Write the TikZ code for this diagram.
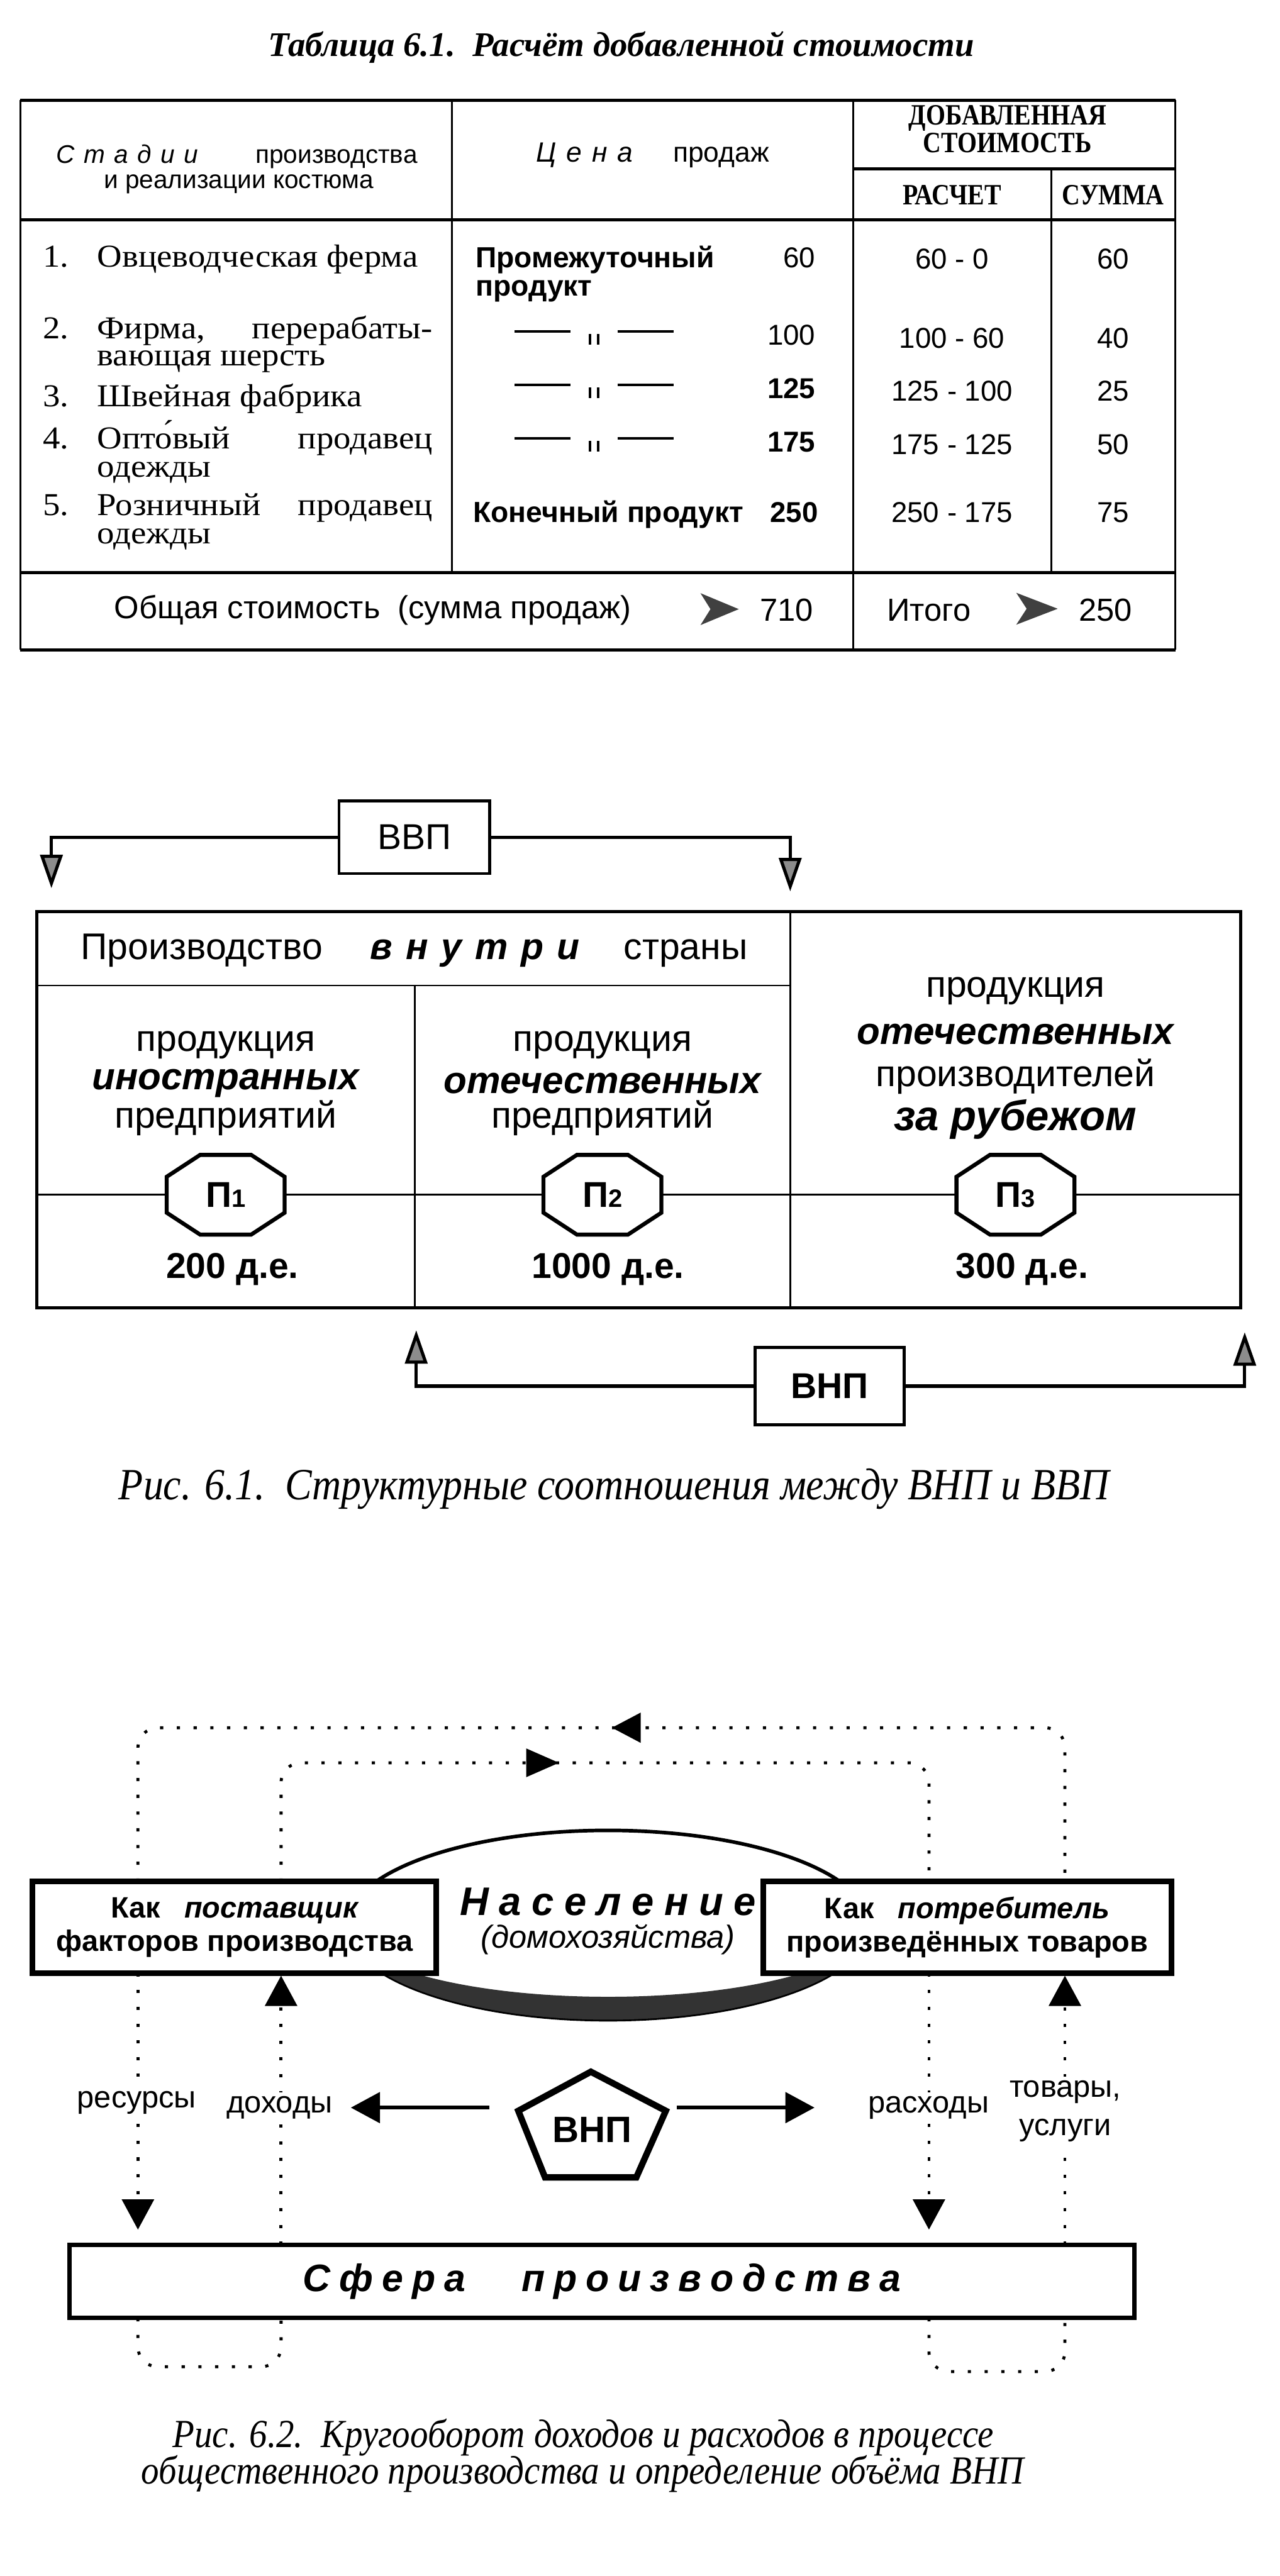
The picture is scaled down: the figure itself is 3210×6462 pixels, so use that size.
\documentclass[tikz,border=0pt]{standalone}
\usepackage{fontspec}
\setmainfont{Liberation Serif}
\setsansfont{Liberation Sans}
\newfontfamily\capfont[FakeStretch=0.9]{Liberation Serif}
\newfontfamily\wideserif[FakeStretch=1.08]{Liberation Serif}
\newfontfamily\condserif[FakeStretch=0.85]{Liberation Serif}
\usetikzlibrary{arrows.meta,calc}
\makeatletter
\newcommand\spreadtxt[2]{{\def\sp@k{\kern#1}\@tfor\sp@c:=#2\do{\sp@c\sp@k}\unkern}}
\makeatother
\newcommand\fsz[1]{\fontsize{#1}{#1}\selectfont}
\newcommand\dittomark{\rule[0.55ex]{14pt}{0.7pt}\hspace{4.5pt}\rule[-0.9pt]{0.7pt}{2.7pt}\hspace{1.4pt}\rule[-0.9pt]{0.7pt}{2.7pt}\hspace{4.5pt}\rule[0.55ex]{14pt}{0.7pt}}
\begin{document}
\begin{tikzpicture}[x=0.1pt,y=-0.1pt,
  every node/.style={inner sep=0pt, outer sep=0pt},
  hl/.style={line width=0.8pt},
  vl/.style={line width=0.45pt},
  c1n/.style={anchor=base west, font=\wideserif\fsz{8}},
  c1t/.style={anchor=base west, font=\wideserif\fsz{8}},
  c2b/.style={anchor=base west, font=\fsz{7.3}\sffamily\bfseries},
  c2n/.style={anchor=base east, font=\fsz{7.2}\sffamily},
  c3/.style={anchor=base, font=\fsz{7.2}\sffamily},
  ditto/.style={font=\fsz{7}\sffamily},
  hdr/.style={font=\condserif\bfseries\fsz{7.4}},
  tot/.style={font=\fsz{8}\sffamily},
  dart/.style={fill=black!75},
  fa/.style={font=\fsz{9.3}\sffamily},
  fai/.style={font=\fsz{9.5}\sffamily\bfseries\itshape},
  fav/.style={font=\fsz{9}\sffamily\bfseries},
  gbox/.style={draw, line width=0.7pt, fill=white},
  garr/.style={line width=0.8pt, -{Triangle[length=8.4pt,width=5.6pt,fill=black!45]}},
  octo/.style={draw, line width=1pt, fill=white},
  captxt/.style={font=\capfont\itshape},
  dotl/.style={line width=0.75pt, dash pattern=on 0.8pt off 3.4pt},
  dotarr/.style={dotl, -{Triangle[length=7.6pt,width=8pt]}},
  hbox/.style={draw, line width=1.4pt, fill=white, align=center, font=\fsz{7.4}\sffamily\bfseries},
  lab/.style={font=\fsz{7.7}\sffamily, fill=white, inner sep=1pt},
  sarr/.style={line width=1pt, -{Triangle[length=7.3pt,width=7.6pt]}}
]
\useasboundingbox (0,0) rectangle (3210,6462);

% ================= Table 6.1 =================
\node[font=\fsz{8.65}\rmfamily\bfseries\itshape] (ttl) at (1558,119) {Таблица 6.1.\ \ Расчёт добавленной стоимости};

\draw[hl] (51,251) -- (2948,251);
\draw[hl] (2140,423) -- (2948,423);
\draw[hl] (51,551) -- (2948,551);
\draw[hl] (51,1437) -- (2948,1437);
\draw[hl] (51,1630) -- (2948,1630);
\draw[vl] (51,251) -- (51,1630);
\draw[vl] (1134,251) -- (1134,1437);
\draw[vl] (2140,251) -- (2140,1630);
\draw[vl] (2637,423) -- (2637,1437);
\draw[vl] (2948,251) -- (2948,1630);

% header
\node[anchor=base, font=\fsz{6.4}\sffamily] (hA1) at (594,410) {\makebox[90.6pt][s]{{\itshape\spreadtxt{2.3pt}{Стадии}}\hfill производства}};
\node[anchor=base, font=\fsz{6.4}\sffamily] (hA2) at (599,473) {и реализации костюма};
\node[anchor=base, font=\fsz{7}\sffamily] (hB) at (1637,406) {\makebox[58.4pt][s]{{\itshape\spreadtxt{2.5pt}{Цена}}\hfill продаж}};
\node[hdr] (hC1) at (2527,296) {ДОБАВЛЕННАЯ};
\node[hdr] (hC2) at (2527,359) {СТОИМОСТЬ};
\node[hdr] (hC3) at (2388,490) {РАСЧЕТ};
\node[hdr] (hC4) at (2792,490) {СУММА};

% column 1
\node[c1n] (n1) at (108,669) {1.};
\node[c1t] (s1) at (244,669) {Овцеводческая ферма};
\node[c1n] (n2) at (108,850) {2.};
\node[c1t] (s2a) at (244,850) {\makebox[84.1pt][s]{Фирма,\hfill перерабаты-}};
\node[c1t] (s2b) at (244,918) {вающая шерсть};
\node[c1n] (n3) at (108,1020) {3.};
\node[c1t] (s3) at (244,1020) {Швейная фабрика};
\node[c1n] (n4) at (108,1126) {4.};
\node[c1t] (s4a) at (244,1126) {\makebox[84.1pt][s]{Опто́вый\hfill продавец}};
\node[c1t] (s4b) at (244,1196) {одежды};
\node[c1n] (n5) at (108,1293) {5.};
\node[c1t] (s5a) at (244,1293) {\makebox[84.1pt][s]{Розничный\hfill продавец}};
\node[c1t] (s5b) at (244,1364) {одежды};

% column 2
\node[c2b] (p1a) at (1193,672) {Промежуточный};
\node[c2b] (p1b) at (1193,742) {продукт};
\node[c2n] (v1) at (2045,672) {60};
\node[ditto] (d2) at (1490,846) {\dittomark};
\node[c2n] (v2) at (2045,865) {100};
\node[ditto] (d3) at (1490,980) {\dittomark};
\node[c2n, font=\fsz{7.2}\sffamily\bfseries] (v3) at (2045,999) {125};
\node[ditto] (d4) at (1490,1114) {\dittomark};
\node[c2n, font=\fsz{7.2}\sffamily\bfseries] (v4) at (2045,1133) {175};
\node[c2b] (p5) at (1187,1310) {Конечный продукт};
\node[c2n, font=\fsz{7.2}\sffamily\bfseries] (v5) at (2052,1310) {250};

% column 3 and 4
\node[c3] (r1) at (2388,674) {60 - 0};
\node[c3] (r2) at (2388,873) {100 - 60};
\node[c3] (r3) at (2388,1005) {125 - 100};
\node[c3] (r4) at (2388,1139) {175 - 125};
\node[c3] (r5) at (2388,1310) {250 - 175};
\node[c3] (u1) at (2792,674) {60};
\node[c3] (u2) at (2792,873) {40};
\node[c3] (u3) at (2792,1005) {25};
\node[c3] (u4) at (2792,1139) {50};
\node[c3] (u5) at (2792,1310) {75};

% total row
\node[tot, anchor=west] (tot1) at (287,1530) {Общая стоимость\ \ (сумма продаж)};
\fill[dart] (1757,1488) -- (1853,1528) -- (1757,1568) -- (1782,1528) -- cycle;
\node[tot, anchor=east] (tot2) at (2040,1530) {710};
\node[tot, anchor=west] (tot3) at (2225,1530) {Итого};
\fill[dart] (2549,1487) -- (2653,1527) -- (2549,1567) -- (2575,1527) -- cycle;
\node[tot, anchor=west] (tot4) at (2706,1530) {250};

% ================= Figure 6.1 =================
\node[gbox, minimum width=37.8pt, minimum height=18.2pt, font=\fsz{9}\sffamily] (vvp) at (1039,2100) {ВВП};
\coordinate (vvpL) at (129,2228);
\coordinate (vvpR) at (1982,2236);
\draw[garr] (vvp.west) -| (vvpL);
\draw[garr] (vvp.east) -| (vvpR);

% main box
\draw[line width=0.75pt] (92,2287) rectangle (3112,3281);
\draw[vl] (92,2472) -- (1982,2472);
\draw[vl] (1982,2287) -- (1982,3281);
\draw[vl] (1040,2472) -- (1040,3281);
\draw[line width=0.5pt] (92,2997) -- (3112,2997);

\node[fa] (dom) at (1039,2384) {Производство\hspace{12pt}{\bfseries\itshape\spreadtxt{3.3pt}{внутри}}\hspace{11pt}страны};

\node[fa] (a1) at (566,2622) {продукция};
\node[fai] (a2) at (566,2717) {иностранных};
\node[fa] (a3) at (566,2805) {предприятий};
\node[fa] (b1) at (1511,2622) {продукция};
\node[fai] (b2) at (1511,2717) {отечественных};
\node[fa] (b3) at (1511,2805) {предприятий};
\node[fa] (c1) at (2547,2486) {продукция};
\node[fai] (c2) at (2547,2594) {отечественных};
\node[fa] (c3) at (2547,2700) {производителей};
\node[fai, font=\fsz{10.6}\sffamily\bfseries\itshape] (c4) at (2547,2808) {за рубежом};

\foreach \cx/\nm in {566/1,1511/2,2547/3}{
  \filldraw[octo] ({\cx-64},2897) -- ({\cx+64},2897) -- ({\cx+148},2952) -- ({\cx+148},3042)
     -- ({\cx+64},3097) -- ({\cx-64},3097) -- ({\cx-148},3042) -- ({\cx-148},2952) -- cycle;
  \node[fav] (oct\nm) at (\cx,2997) {П{\fsz{6.3}\nm}};
}
\node[fav] (val1) at (583,3184) {200 д.е.};
\node[fav] (val2) at (1525,3184) {1000 д.е.};
\node[fav] (val3) at (2564,3184) {300 д.е.};

\node[gbox, minimum width=37.4pt, minimum height=19.4pt, font=\fsz{9}\sffamily\bfseries] (vnp) at (2081,3477) {ВНП};
\coordinate (vnpL) at (1044,3337);
\coordinate (vnpR) at (3122,3342);
\draw[garr] (vnp.west) -| (vnpL);
\draw[garr] (vnp.east) -| (vnpR);

\node[captxt, font=\capfont\itshape\fsz{11.2}] (cap1) at (1540,3735) {Рис. 6.1.\ \ Структурные соотношения между ВНП и ВВП};

% ================= Figure 6.2 =================
\coordinate (xLo) at (346,0);
\coordinate (xLi) at (705,0);
\coordinate (xRi) at (2330,0);
\coordinate (xRo) at (2671,0);
\coordinate (topO) at (0,4334);
\coordinate (topI) at (0,4422);

% ellipse with dark lower crescent
\draw[line width=0.9pt, fill=white] (1525,4829) ellipse [x radius=65.5pt, y radius=23.75pt];
\fill[black!80] (870,4829) arc[start angle=180, end angle=360, x radius=65.5pt, y radius=23.75pt]
   arc[start angle=0, end angle=-180, x radius=65.5pt, y radius=18pt] -- cycle;

\node[hbox, minimum width=101.3pt, minimum height=23pt] (sup) at (588,4835)
  {Как\hspace{6pt}{\itshape поставщик}\\[1pt]факторов производства};
\node[hbox, minimum width=102.4pt, minimum height=23pt] (con) at (2426,4835)
  {Как\hspace{6pt}{\itshape потребитель}\\[1pt]произведённых товаров};

\node[font=\fsz{10}\sffamily\bfseries\itshape] (pop) at (1525,4770) {\spreadtxt{2.6pt}{Население}};
\node[font=\fsz{8}\sffamily\itshape] (hh) at (1525,4866) {(домохозяйства)};

% top dotted loops
\draw[dotl, rounded corners=5pt] (sup.north -| xLo) -- (xLo |- topO) -- (xRo |- topO) -- (con.north -| xRo);
\draw[dotl, rounded corners=5pt] (sup.north -| xLi) -- (xLi |- topI) -- (xRi |- topI) -- (con.north -| xRi);
\fill (1535,4334) -- (1607,4296) -- (1607,4372) -- cycle;
\fill (1402,4422) -- (1320,4386) -- (1320,4458) -- cycle;

% production sphere
\node[draw, line width=1.1pt, fill=white, minimum width=267.1pt, minimum height=18.4pt,
      font=\fsz{9.6}\sffamily\bfseries\itshape] (sfera) at (1510,5723)
  {\spreadtxt{2.2pt}{Сфера}\hspace{14pt}\spreadtxt{2.2pt}{производства}};

\coordinate (tLo) at (346,5593);
\coordinate (tRi) at (2330,5593);
\coordinate (tLi) at (705,4956);
\coordinate (tRo) at (2671,4956);
\draw[dotarr] (sup.south -| xLo) -- (tLo);
\draw[dotarr] (con.south -| xRi) -- (tRi);
\draw[dotarr] (sfera.north -| xLi) -- (tLi);
\draw[dotarr] (sfera.north -| xRo) -- (tRo);

% bottom dotted loops
\draw[dotl, rounded corners=5pt] (sfera.south -| xLo) -- (346,5937) -- (705,5937) -- (sfera.south -| xLi);
\draw[dotl, rounded corners=5pt] (sfera.south -| xRi) -- (2330,5949) -- (2671,5949) -- (sfera.south -| xRo);

% labels
\node[lab] (res) at (343,5275) {ресурсы};
\node[lab] (doh) at (701,5287) {доходы};
\node[lab] (ras) at (2329,5287) {расходы};
\node[lab, align=center] (tov) at (2672,5296) {товары,\\[2pt]услуги};

% GNP pentagon
\filldraw[draw, line width=1.6pt, fill=white] (1482,5197) -- (1670,5295) -- (1596,5462) -- (1367,5462) -- (1300,5295) -- cycle;
\node[font=\fsz{9.2}\sffamily\bfseries] (gnp) at (1485,5343) {ВНП};
\coordinate (gL0) at (1228,5287);
\coordinate (gL1) at (880,5287);
\coordinate (gR0) at (1698,5287);
\coordinate (gR1) at (2043,5287);
\draw[sarr] (gL0) -- (gL1);
\draw[sarr] (gR0) -- (gR1);

\node[captxt, font=\capfont\itshape\fsz{10}] (cap2a) at (1463,6114) {Рис. 6.2.\ \ Кругооборот доходов и расходов в процессе};
\node[captxt, font=\capfont\itshape\fsz{10}] (cap2b) at (1461,6206) {общественного производства и определение объёма ВНП};
\end{tikzpicture}
\end{document}
